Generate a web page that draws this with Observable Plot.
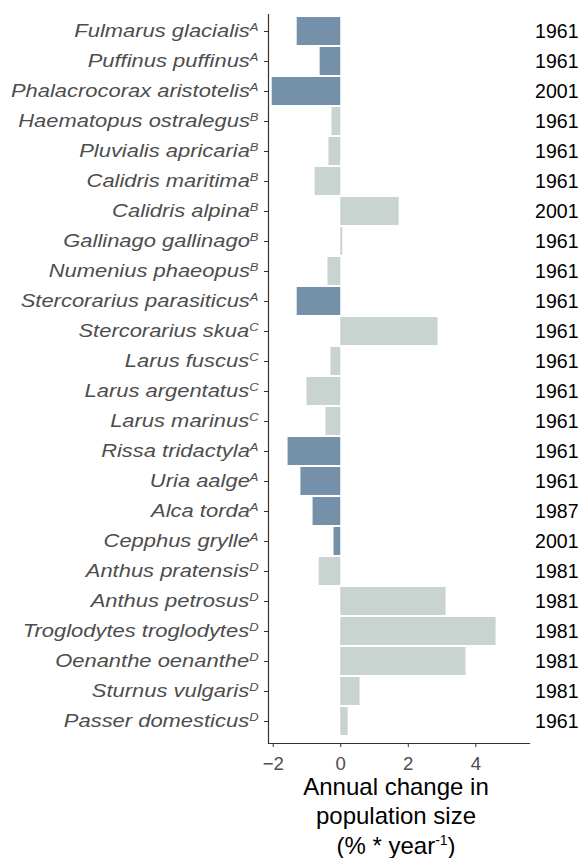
<!DOCTYPE html>
<html>
<head>
<meta charset="utf-8">
<script src="https://cdn.jsdelivr.net/npm/d3@7"></script>
<script src="https://cdn.jsdelivr.net/npm/@observablehq/plot@0.6"></script>
<style>
  html, body { margin: 0; padding: 0; background: white; }
</style>
</head>
<body>
<div id="chart"></div>
<script>
const species = [
  "Fulmarus glacialis", "Puffinus puffinus", "Phalacrocorax aristotelis",
  "Haematopus ostralegus", "Pluvialis apricaria", "Calidris maritima",
  "Calidris alpina", "Gallinago gallinago", "Numenius phaeopus",
  "Stercorarius parasiticus", "Stercorarius skua", "Larus fuscus",
  "Larus argentatus", "Larus marinus", "Rissa tridactyla", "Uria aalge",
  "Alca torda", "Cepphus grylle", "Anthus pratensis", "Anthus petrosus",
  "Troglodytes troglodytes", "Oenanthe oenanthe", "Sturnus vulgaris",
  "Passer domesticus"
];
const groups = ["A","A","A","B","B","B","B","B","B","A","C","C","C","C","A","A","A","A","D","D","D","D","D","D"];
const annualChange = [-1.29, -0.61, -2.03, -0.26, -0.35, -0.76, 1.73, 0.06, -0.38, -1.29, 2.88, -0.29, -1.00, -0.44, -1.56, -1.18, -0.82, -0.20, -0.64, 3.12, 4.60, 3.71, 0.57, 0.22];
const startYear = [1961, 1961, 2001, 1961, 1961, 1961, 2001, 1961, 1961, 1961, 1961, 1961, 1961, 1961, 1961, 1961, 1987, 2001, 1981, 1981, 1981, 1981, 1981, 1961];
const xTicks = [-2, 0, 2, 4];
const xLabel = ["Annual change in", "population size", "(% * year"];
const xLabelSup = "-1";
const colorDomain = ["A", "other"];
const colorRange = ["#7591a9", "#c9d4d1"];

const data = species.map((s, i) => ({
  species: s,
  group: groups[i],
  change: annualChange[i],
  year: startYear[i]
}));
const groupOf = new Map(data.map(d => [d.species, d.group]));

const chart = Plot.plot({
  width: 584,
  height: 858,
  marginLeft: 268,
  marginRight: 55,
  marginTop: 14,
  marginBottom: 115,
  style: { fontFamily: "'Liberation Sans', Arial, Helvetica, sans-serif", background: "white" },
  x: { domain: [-2.14, 5.59] },
  y: { domain: species, range: [14, 737], padding: 0.07 },
  color: { domain: colorDomain, range: colorRange },
  marks: [
    Plot.barX(data, { x: "change", y: "species", fill: d => d.group === "A" ? "A" : "other" }),
    Plot.frame({ anchor: "left", stroke: "#333", strokeWidth: 1.2 }),
    Plot.frame({ anchor: "bottom", stroke: "#333", strokeWidth: 1.2 }),
    Plot.axisX({ ticks: xTicks, tickSize: 4, tickPadding: 9, stroke: "#333", fill: "#4d4d4d", fontSize: 18.6, label: null }),
    Plot.axisY({ tickSize: 4, tickPadding: 6, stroke: "#333", fill: "#4d4d4d", fontSize: 18.6, fontStyle: "italic", label: null }),
    Plot.text(data, { y: "species", text: d => String(d.year), frameAnchor: "right", textAnchor: "end", dx: 49, fontSize: 19.5, fill: "black" }),
    Plot.text([xLabel.join("\n")], { frameAnchor: "bottom", lineAnchor: "top", dy: 30, dx: -3, fontSize: 24, lineHeight: 1.24, fill: "black" })
  ]
});

const svg = d3.select(chart);
// superscript group letters on species labels, and widen glyphs
svg.selectAll('g[aria-label="y-axis tick label"] text').each(function() {
  const t = d3.select(this);
  const name = t.text();
  const g = groupOf.get(name);
  if (g) {
    t.append("tspan").attr("dy", -6).attr("font-size", 11).text(g);
  }
  const tr = t.attr("transform") || "";
  t.attr("transform", tr + " scale(1.18,1)");
});
// superscript in axis title
svg.selectAll('g[aria-label="text"] text').each(function() {
  const t = d3.select(this);
  const spans = t.selectAll("tspan");
  if (spans.size() === 3) {
    const last = d3.select(spans.nodes()[2]);
    last.append("tspan").attr("dy", -9).attr("font-size", 14).text(xLabelSup);
    last.append("tspan").attr("dy", 9).text(")");
  }
});

document.getElementById("chart").appendChild(chart);
</script>
</body>
</html>
